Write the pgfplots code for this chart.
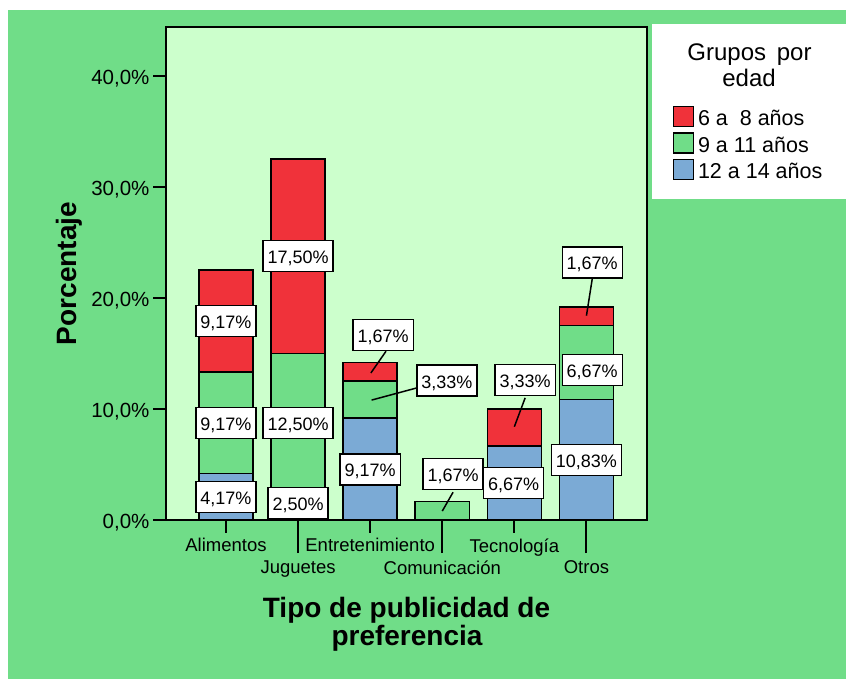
\documentclass[border=0pt]{standalone}
\usepackage{pgfplots}
\pgfplotsset{compat=1.18}
\usepackage{fontspec}
\setmainfont{Liberation Sans}
\definecolor{bgg}{RGB}{112,221,136}
\definecolor{pal}{RGB}{204,255,204}
\definecolor{rd}{RGB}{240,50,58}
\definecolor{bl}{RGB}{123,170,213}
\tikzset{vlab/.style={fill=white, draw=black, line width=1.3pt, inner xsep=4.5pt, inner ysep=7.5pt, text height=15.5pt, text depth=0.5pt, font=\fontsize{18}{20}\selectfont}}
\begin{document}
\begin{tikzpicture}[x=1pt,y=1pt]
\fill[white] (0,0) rectangle (846,679);
\fill[bgg] (8,0) rectangle (846,669);
\fill[white] (652,480) rectangle (846,655);
\node[anchor=base, font=\fontsize{24}{26}\selectfont] at (749.5,618) {Grupos\hspace{0.45em}por};
\node[anchor=base, font=\fontsize{24}{26}\selectfont] at (749,592) {edad};
\node[anchor=base, rotate=90, font=\fontsize{28}{28}\selectfont\bfseries] at (76,405.5) {Porcentaje};
\node[anchor=base, font=\fontsize{28}{28}\selectfont\bfseries] at (406.5,61) {Tipo de publicidad de};
\node[anchor=base, font=\fontsize{28}{28}\selectfont\bfseries] at (407,33) {preferencia};
\begin{axis}[
  at={(166pt,159pt)}, anchor=south west, scale only axis,
  width=481pt, height=493pt,
  xmin=-0.832, xmax=5.84, ymin=0, ymax=44.4,
  clip=false,
  axis background/.style={fill=pal},
  axis line style={line width=2pt},
  ybar stacked, bar width=0.75,
  tick pos=left, tick align=outside, major tick length=13pt,
  tick style={line width=2pt, black},
  xtick={0,2,4}, xticklabels={Alimentos,Entretenimiento,Tecnología},
  extra x ticks={1,3,5}, extra x tick labels={Juguetes,Comunicación,Otros},
  extra x tick style={major tick length=33pt, xticklabel style={yshift=-2pt}},
  xticklabel style={font=\fontsize{18.5}{20}\selectfont, yshift=-2pt},
  ytick={0,10,20,30,40},
  yticklabels={{0,0\%},{10,0\%},{20,0\%},{30,0\%},{40,0\%}},
  yticklabel style={font=\fontsize{20.5}{22}\selectfont, yshift=-3pt},
  every axis plot/.append style={draw=black, line width=1.5pt},
  reverse legend,
  legend style={at={(axis description cs:1.054,0.84)}, anchor=north west, draw=none, fill=none, inner sep=0pt, outer sep=0pt, row sep=0pt, font=\fontsize{21.5}{24}\selectfont, nodes={inner xsep=3.75pt, inner ysep=1.75pt, text height=18pt, text depth=5pt}, cells={anchor=base west}},
  legend image code/.code={\draw[#1,draw=black,line width=1.3pt] (0pt,-1pt) rectangle (20pt,19pt);},
]
\addplot[fill=bl] coordinates {(0,4.17) (1,2.50) (2,9.17) (3,0) (4,6.67) (5,10.83)};
\addlegendentry{12 a 14 años}
\addplot[fill=bgg] coordinates {(0,9.17) (1,12.50) (2,3.33) (3,1.67) (4,0) (5,6.67)};
\addlegendentry{9 a 11 años}
\addplot[fill=rd] coordinates {(0,9.17) (1,17.50) (2,1.67) (3,0) (4,3.33) (5,1.67)};
\addlegendentry{6 a\ \ 8 años}
% leader line ends
\coordinate (a1) at (axis cs:2.02,10.8);  \coordinate (b1) at (axis cs:2.65,11.9);
\coordinate (a2) at (axis cs:2.01,13.24); \coordinate (b2) at (axis cs:2.22,15.2);
\coordinate (a3) at (axis cs:3.0,0.8);    \coordinate (b3) at (axis cs:3.15,2.5);
\coordinate (a4) at (axis cs:4.0,8.4);    \coordinate (b4) at (axis cs:4.15,11.0);
\coordinate (a5) at (axis cs:5.0,18.4);   \coordinate (b5) at (axis cs:5.08,21.7);
% value label positions
\coordinate (v1) at (axis cs:0,17.92);
\coordinate (v2) at (axis cs:0,8.75);
\coordinate (v3) at (axis cs:0,2.07);
\coordinate (v4) at (axis cs:1,23.75);
\coordinate (v5) at (axis cs:1,8.75);
\coordinate (v6) at (axis cs:1,1.55);
\coordinate (v7) at (axis cs:2,4.55);
\coordinate (v8) at (axis cs:3.065,12.55);
\coordinate (v9) at (axis cs:2.18,16.65);
\coordinate (v10) at (axis cs:3.15,4.14);
\coordinate (v11) at (axis cs:3.99,3.33);
\coordinate (v12) at (axis cs:4.15,12.6);
\coordinate (v13) at (axis cs:5.0,5.4);
\coordinate (v14) at (axis cs:5.08,13.5);
\coordinate (v15) at (axis cs:5.08,23.2);
\end{axis}
\foreach \i in {1,...,5} {\draw[line width=1.5pt] (a\i) -- (b\i);}
\node[vlab] at (v1) {9,17\%};
\node[vlab] at (v2) {9,17\%};
\node[vlab] at (v3) {4,17\%};
\node[vlab] at (v4) {17,50\%};
\node[vlab] at (v5) {12,50\%};
\node[vlab] at (v6) {2,50\%};
\node[vlab] at (v7) {9,17\%};
\node[vlab] at (v8) {3,33\%};
\node[vlab] at (v9) {1,67\%};
\node[vlab] at (v10) {1,67\%};
\node[vlab] at (v11) {6,67\%};
\node[vlab] at (v12) {3,33\%};
\node[vlab] at (v13) {10,83\%};
\node[vlab] at (v14) {6,67\%};
\node[vlab] at (v15) {1,67\%};
\end{tikzpicture}
\end{document}
